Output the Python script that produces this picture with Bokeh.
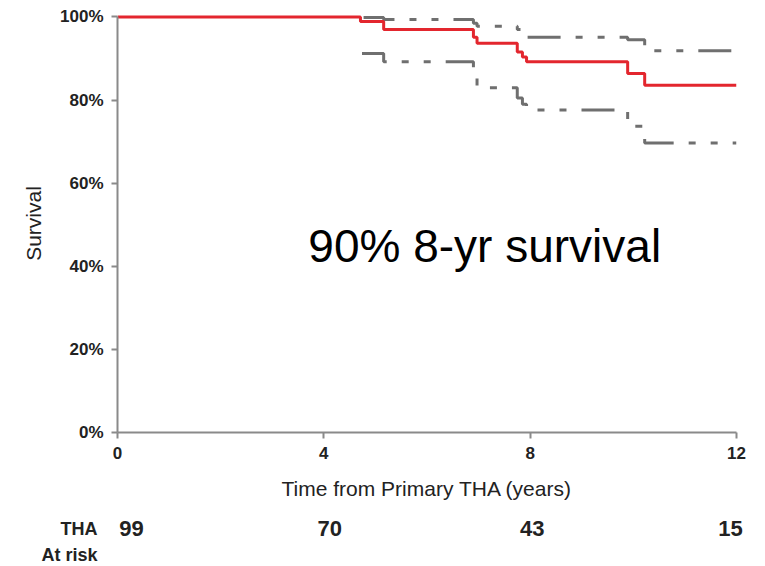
from bokeh.plotting import figure
from bokeh.models import Range1d, FixedTicker, NumeralTickFormatter, Label
from bokeh.layouts import column
from bokeh.core.properties import value
from bokeh.embed import file_html
from bokeh.resources import INLINE

# Kaplan-Meier estimate (years, survival fraction)
km_time = [0.0, 4.71, 5.16, 6.90, 6.97, 7.75, 7.85, 7.93, 9.89, 10.22, 12.0]
km_surv = [1.000, 0.989, 0.970, 0.951, 0.937, 0.916, 0.904, 0.892, 0.864, 0.836, 0.836]

# Upper confidence limit
up_time = [4.77, 5.16, 6.90, 6.97, 7.75, 7.85, 7.93, 9.89, 10.22, 12.0]
up_surv = [0.999, 0.994, 0.985, 0.978, 0.970, 0.960, 0.951, 0.945, 0.919, 0.919]

# Lower confidence limit
lo_time = [4.74, 5.16, 6.90, 6.97, 7.75, 7.85, 7.93, 9.89, 10.22, 12.0]
lo_surv = [0.912, 0.892, 0.860, 0.830, 0.805, 0.790, 0.776, 0.737, 0.697, 0.697]

x_ticks = [0, 4, 8, 12]
y_ticks = [0.0, 0.2, 0.4, 0.6, 0.8, 1.0]

risk_times = [0, 4, 8, 12]
risk_counts = [99, 70, 43, 15]
risk_row_labels = ["THA", "At risk"]

annotation = "90% 8-yr survival"
FONT = "Liberation Sans"

LEFT, FW, RIGHT = 117, 619, 12
PX_PER_YEAR = FW / 12.0

p = figure(frame_width=FW, frame_height=418,
           x_range=Range1d(0, 12), y_range=Range1d(0, 1.006),
           output_backend="svg", toolbar_location=None,
           min_border_left=LEFT, min_border_right=RIGHT,
           min_border_top=14, min_border_bottom=76)
p.outline_line_color = None
p.xgrid.visible = False
p.ygrid.visible = False

p.step(up_time, up_surv, mode="after", line_color="#6f6f6f", line_width=3,
       line_dash="33 15 7 15 7 15")
p.step(lo_time, lo_surv, mode="after", line_color="#6f6f6f", line_width=3,
       line_dash="33 15 7 15 7 15")
p.step(km_time, km_surv, mode="after", line_color="#e3262e", line_width=3)

for ax in (p.xaxis[0], p.yaxis[0]):
    ax.axis_line_color = "#8a8a8a"
    ax.axis_line_width = 2
    ax.major_tick_line_color = "#8a8a8a"
    ax.major_tick_line_width = 2
    ax.major_tick_out = 6
    ax.major_tick_in = 0
    ax.minor_tick_line_color = None
    ax.major_label_text_font = FONT
    ax.major_label_text_font_style = "bold"
    ax.major_label_text_font_size = "17px"
    ax.major_label_text_color = "#222222"
    ax.major_label_standoff = 8
    ax.axis_label_text_font = FONT
    ax.axis_label_text_font_style = "normal"
    ax.axis_label_text_font_size = "21px"
    ax.axis_label_text_color = "#222222"

p.xaxis.ticker = FixedTicker(ticks=x_ticks)
p.yaxis.ticker = FixedTicker(ticks=y_ticks)
p.yaxis.formatter = NumeralTickFormatter(format="0%")
p.yaxis.bounds = (0, 1.0)
p.xaxis.axis_label = "Time from Primary THA (years)"
p.yaxis.axis_label = "Survival"
p.xaxis.axis_label_standoff = 15
p.yaxis.axis_label_standoff = 12

p.add_layout(Label(x=3.70, y=0.448, text=annotation, text_font=FONT,
                   text_font_size="46px", text_color="black",
                   text_baseline="alphabetic", text_align="left"))

# At-risk table: strip figure below, same years-to-pixels scale
SW = FW + RIGHT
r = figure(frame_width=SW, frame_height=56,
           x_range=Range1d(0, SW / PX_PER_YEAR),
           y_range=Range1d(56, 0),
           output_backend="svg", toolbar_location=None,
           min_border_left=LEFT, min_border_right=0,
           min_border_top=0, min_border_bottom=0)
r.xaxis.visible = False
r.grid.visible = False
r.outline_line_color = None

ry = r.yaxis[0]
ry.ticker = FixedTicker(ticks=[20, 50])
ry.major_label_overrides = {20: risk_row_labels[0], 50: risk_row_labels[1]}
ry.axis_line_color = None
ry.major_tick_line_color = None
ry.minor_tick_line_color = None
ry.major_tick_out = 0
ry.major_label_standoff = 20
ry.major_label_text_font = FONT
ry.major_label_text_font_style = "bold"
ry.major_label_text_font_size = "18px"
ry.major_label_text_color = "#222222"

count_offsets = [14, 6, 2, -6]
r.text(x=risk_times, y=[20] * len(risk_times), text=[str(n) for n in risk_counts],
       x_offset=count_offsets,
       text_font=value(FONT), text_font_size="22px", text_font_style="bold",
       text_color="#222222", text_align="center", text_baseline="middle")

layout = column(p, r, spacing=0)
open("out.html", "w").write(file_html(layout, INLINE))
